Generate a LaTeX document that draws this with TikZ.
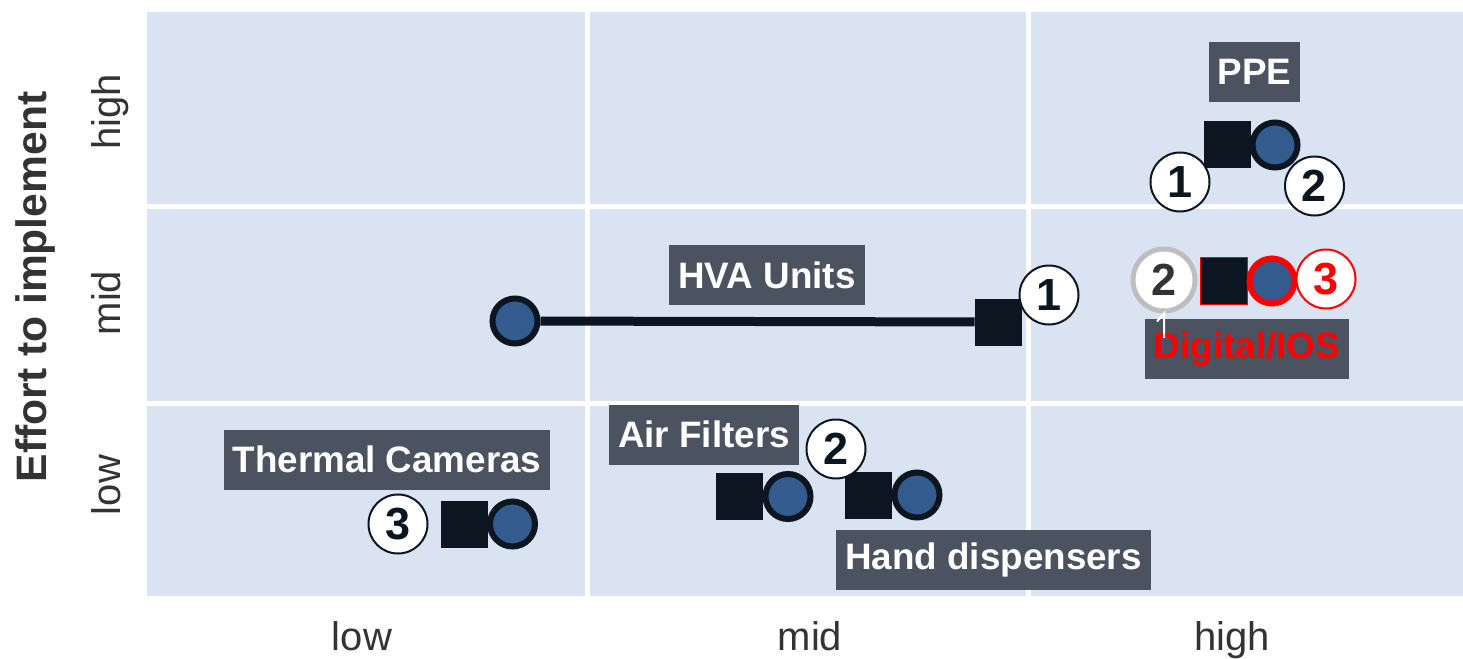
\documentclass[tikz,border=0pt]{standalone}
\usepackage{fontspec}
\setmainfont{Liberation Sans}
\usetikzlibrary{positioning}
\definecolor{panel}{HTML}{DAE3F2}
\definecolor{tagbg}{HTML}{4B5361}
\definecolor{navy}{HTML}{0C1621}
\definecolor{pointblue}{HTML}{335B8E}
\definecolor{axisgray}{HTML}{333333}
\definecolor{ringgray}{HTML}{BEBEBE}
\begin{document}
\begin{tikzpicture}[x=0.5pt,y=-0.5pt,
    tag/.style={fill=tagbg, text=white, font=\fontsize{18.4}{22}\selectfont\bfseries, minimum height=30pt, inner xsep=4.5pt, inner ysep=0pt},
    sqr/.style={rectangle, fill=navy, minimum size=23.5pt, inner sep=0pt},
    crc/.style={circle, draw=navy, line width=3pt, fill=pointblue, minimum size=22.5pt, inner sep=0pt},
    numc/.style={circle, draw=navy, line width=1pt, fill=white, minimum size=29.5pt, inner sep=0pt, text=navy, font=\fontsize{22.5}{24}\selectfont\bfseries},
    axtick/.style={text=axisgray, font=\fontsize{20}{24}\selectfont, anchor=base, inner sep=0pt},
    gridln/.style={white, line width=2.5pt}]
    \useasboundingbox (0,0) rectangle (1463,659);
    % panel and grid
    \fill[panel] (147,12) rectangle (1463,596);
    \foreach \gx in {587,1028} \draw[gridln] (\gx,12) -- (\gx,596);
    \foreach \gy in {206,403} \draw[gridln] (147,\gy) -- (1463,\gy);
    % axes
    \node[axtick] (x_low)  at (362,650)  {low};
    \node[axtick] (x_mid)  at (810,650)  {mid};
    \node[axtick] (x_high) at (1232,650) {high};
    \node[axtick, rotate=90] (y_low)  at (120,485) {low};
    \node[axtick, rotate=90] (y_mid)  at (120,303) {mid};
    \node[axtick, rotate=90] (y_high) at (120,112) {high};
    \node[rotate=90, text=axisgray, font=\fontsize{21.3}{24}\selectfont\bfseries] (y_title) at (35,287) {Effort to implement};
    % labels
    \node[tag] (t_ppe)     at (1254.5,72)   {PPE};
    \node[tag] (t_hva)     at (767,275)     {HVA Units};
    \node[tag, text=red] (t_dig) at (1247,349) {\raisebox{-2pt}{Digital/IOS}};
    \node[tag] (t_air)     at (704,434.5)   {Air Filters};
    \node[tag] (t_therm)   at (387,459.5)   {Thermal Cameras};
    \node[tag] (t_hand)    at (993.5,560)   {Hand dispensers};
    % squares
    \node[sqr] (s_ppe)   at (1227,144.5) {};
    \node[sqr, draw=red, line width=0.75pt] (s_dig) at (1224,281) {};
    \node[sqr] (s_hva)   at (998.5,322)  {};
    \node[sqr] (s_air)   at (739.5,496.5) {};
    \node[sqr] (s_hand)  at (868,495)    {};
    \node[sqr] (s_therm) at (464.5,524)  {};
    % circles
    \node[crc] (c_ppe)   at (1275,145)   {};
    \node[crc, draw=red] (c_dig) at (1272,281) {};
    \node[crc] (c_hva)   at (515,321)    {};
    \node[crc] (c_air)   at (788,496.5)  {};
    \node[crc] (c_hand)  at (917,495)    {};
    \node[crc] (c_therm) at (512.5,524)  {};
    \draw[navy, line width=4.5pt] (c_hva) -- (s_hva);
    % numbers
    \node[numc] (n_ppe1)  at (1180,182)   {1};
    \node[numc] (n_ppe2)  at (1314.5,186) {2};
    \node[numc, draw=ringgray, line width=2.5pt, minimum size=31pt, text=axisgray] (n_dig2) at (1164,280) {2};
    \node[numc, draw=red, text=red] (n_dig3) at (1326,279) {3};
    \node[numc] (n_hva1)  at (1049,295)   {1};
    \node[numc] (n_air2)  at (836,449)    {2};
    \node[numc] (n_therm3) at (398,524)   {3};
    % leader
    \coordinate (lead_end) at (1164,338);
    \draw[white, line width=1pt] ([shift={(-7,8)}]n_dig2.south) -- (n_dig2.south) -- (lead_end);
\end{tikzpicture}
\end{document}
